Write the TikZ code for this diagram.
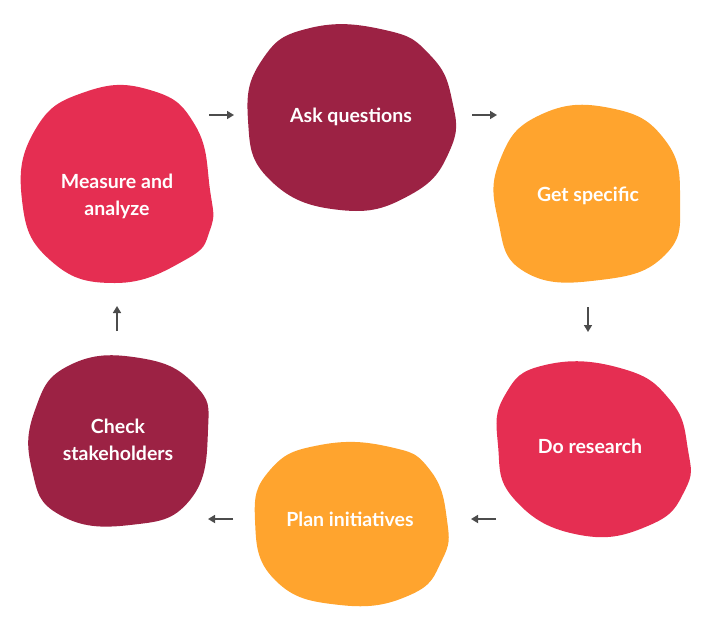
\documentclass[tikz,border=0pt]{standalone}
\usepackage{fontspec}
\setmainfont{Lato}
\usetikzlibrary{arrows.meta}
\definecolor{dred}{HTML}{9C2244}
\definecolor{pred}{HTML}{E52E52}
\definecolor{orng}{HTML}{FFA42E}
\tikzset{
  lbl/.style={text=white,font=\bfseries\fontsize{19.5}{27}\selectfont,align=center,inner sep=0pt},
  arr/.style={draw=black!70,line width=1.6pt,-{Triangle[length=7pt,width=8pt]}},
}
\begin{document}
\begin{tikzpicture}[x=1pt,y=-1pt]
\useasboundingbox (0,0) rectangle (708,625);
% blobs
\fill[dred] plot[smooth cycle,tension=0.8] coordinates{(452,100)(430,55)(385,30)(310,28)(262,60)(248,120)(270,180)(340,210)(410,195)(450,150)};
\fill[orng] plot[smooth cycle,tension=0.8] coordinates{(680,200)(665,140)(610,108)(540,115)(500,160)(498,220)(525,272)(600,280)(665,255)};
\fill[pred] plot[smooth cycle,tension=0.8] coordinates{(688,450)(670,400)(620,368)(545,365)(505,395)(498,445)(515,500)(580,535)(650,525)(685,490)};
\fill[orng] plot[smooth cycle,tension=0.8] coordinates{(447,520)(430,470)(390,447)(320,445)(270,470)(255,520)(275,580)(340,605)(410,595)(442,560)};
\fill[dred] plot[smooth cycle,tension=0.8] coordinates{(208,430)(195,385)(140,358)(70,365)(35,410)(32,470)(60,515)(130,525)(190,500)};
\fill[pred] plot[smooth cycle,tension=0.8] coordinates{(210,190)(195,125)(150,90)(85,92)(35,130)(22,200)(50,260)(115,283)(185,260)(210,230)};
% labels
\node[lbl] (ask) at (351,117) {Ask questions};
\node[lbl] (get) at (588,196) {Get specific};
\node[lbl] (do) at (590,446) {Do research};
\node[lbl] (plan) at (350,519) {Plan initiatives};
\node[lbl] (check) at (118,440) {Check\\stakeholders};
\node[lbl] (meas) at (117,196) {Measure and\\analyze};
% arrows
\coordinate (a1) at (209,115); \coordinate (b1) at (234,115);
\coordinate (a2) at (472,115); \coordinate (b2) at (497,115);
\coordinate (a3) at (588,307); \coordinate (b3) at (588,332);
\coordinate (a4) at (496,519); \coordinate (b4) at (471,519);
\coordinate (a5) at (233,519); \coordinate (b5) at (208,519);
\coordinate (a6) at (117,331); \coordinate (b6) at (117,306);
\foreach \i in {1,...,6}{\draw[arr] (a\i) -- (b\i);}
\end{tikzpicture}
\end{document}
